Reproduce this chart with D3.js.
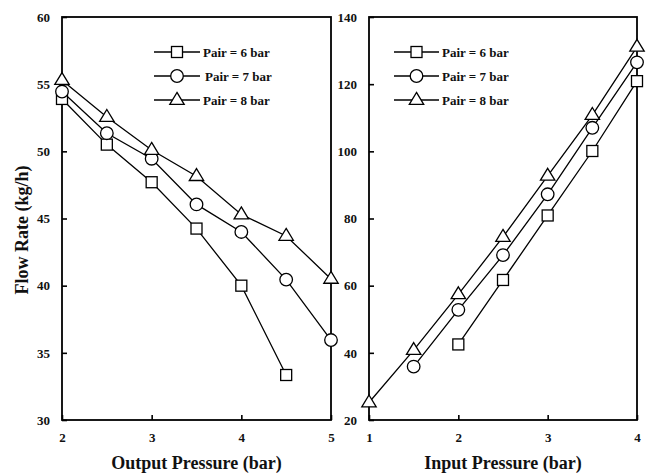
<!DOCTYPE html>
<html>
<head>
<meta charset="utf-8">
<script src="https://cdn.jsdelivr.net/npm/d3@7"></script>
<style>
  html, body { margin: 0; padding: 0; background: #fff; }
  svg text { font-family: "Liberation Serif", "Times New Roman", "DejaVu Serif", serif !important; }
</style>
</head>
<body>
<svg id="chart" width="650" height="475"></svg>
<script>
// Flow rate vs output pressure (left) and vs input pressure (right)
const seriesNames = ["Pair = 6 bar", "Pair = 7 bar", "Pair = 8 bar"];
const markerTypes = ["square", "circle", "triangle"];

const outX6 = [2, 2.5, 3, 3.5, 4, 4.5];
const outY6 = [53.9, 50.5, 47.7, 44.25, 40.0, 33.35];
const outX7 = [2, 2.5, 3, 3.5, 4, 4.5, 5];
const outY7 = [54.45, 51.35, 49.45, 46.05, 44.0, 40.45, 35.95];
const outX8 = [2, 2.5, 3, 3.5, 4, 4.5, 5];
const outY8 = [55.3, 52.55, 50.1, 48.15, 45.3, 43.7, 40.5];

const inX6 = [2, 2.5, 3, 3.5, 4];
const inY6 = [42.5, 61.7, 80.9, 100.1, 120.9];
const inX7 = [1.5, 2, 2.5, 3, 3.5, 4];
const inY7 = [35.9, 52.8, 69.1, 87.2, 107.0, 126.5];
const inX8 = [1, 1.5, 2, 2.5, 3, 3.5, 4];
const inY8 = [25.2, 40.8, 57.4, 74.5, 92.7, 110.8, 131.1];

const leftXTicks = [2, 3, 4, 5];
const leftYTicks = [30, 35, 40, 45, 50, 55, 60];
const rightXTicks = [1, 2, 3, 4];
const rightYTicks = [20, 40, 60, 80, 100, 120, 140];

const yTitle = "Flow Rate (kg/h)";
const leftXTitle = "Output Pressure (bar)";
const rightXTitle = "Input Pressure (bar)";

const svg = d3.select("#chart");

function zip(xs, ys) { return xs.map((x, i) => ({ x, y: ys[i] })); }

function drawMarker(g, type, cx, cy) {
  if (type === "square") {
    g.append("rect").attr("x", cx - 5.5).attr("y", cy - 5.5)
      .attr("width", 11).attr("height", 11);
  } else if (type === "circle") {
    g.append("circle").attr("cx", cx).attr("cy", cy).attr("r", 6.3);
  } else {
    const s = 7.2;
    g.append("path").attr("d",
      `M${cx},${cy - s * 1.05} L${cx + s},${cy + s * 0.6} L${cx - s},${cy + s * 0.6} Z`);
  }
}

function panel(opts) {
  const { left, right, top, bottom, xDomain, yDomain, xTicks, yTicks, series, xTitle, legend } = opts;
  const x = d3.scaleLinear().domain(xDomain).range([left, right]);
  const y = d3.scaleLinear().domain(yDomain).range([bottom, top]);
  const g = svg.append("g");

  // frame
  g.append("rect").attr("x", left).attr("y", top)
    .attr("width", right - left).attr("height", bottom - top)
    .attr("fill", "none").attr("stroke", "#000").attr("stroke-width", 1.8);

  // inward ticks on left axis
  const yAxis = d3.axisLeft(y).tickValues(yTicks).tickSize(-5).tickPadding(12)
    .tickFormat(d3.format("d"));
  const ya = g.append("g").attr("transform", `translate(${left},0)`).call(yAxis);
  ya.select(".domain").remove();
  ya.selectAll("line").attr("stroke-width", 1.6);
  ya.selectAll("text").attr("font-size", 13).attr("font-weight", "bold").attr("fill", "#111");

  // inward ticks on bottom axis
  const xAxis = d3.axisBottom(x).tickValues(xTicks).tickSize(-5).tickPadding(13)
    .tickFormat(d3.format("d"));
  const xa = g.append("g").attr("transform", `translate(0,${bottom})`).call(xAxis);
  xa.select(".domain").remove();
  xa.selectAll("line").attr("stroke-width", 1.6);
  xa.selectAll("text").attr("font-size", 13).attr("font-weight", "bold").attr("fill", "#111");

  const line = d3.line().x(d => x(d.x)).y(d => y(d.y));
  series.forEach(s => {
    g.append("path").datum(s).attr("d", line)
      .attr("fill", "none").attr("stroke", "#000").attr("stroke-width", 1.3);
  });
  series.forEach((s, i) => {
    const mg = g.append("g").attr("fill", "#fff").attr("stroke", "#000").attr("stroke-width", 1.3);
    s.forEach(d => drawMarker(mg, markerTypes[i], x(d.x), y(d.y)));
  });

  // x title
  g.append("text").attr("x", (left + right) / 2).attr("y", 469)
    .attr("text-anchor", "middle").attr("font-size", 18).attr("font-weight", "bold")
    .attr("fill", "#111").text(xTitle);

  // legend
  const lg = g.append("g");
  seriesNames.forEach((name, i) => {
    const ly = legend.y + i * 24;
    lg.append("line").attr("x1", legend.x0).attr("x2", legend.x1)
      .attr("y1", ly).attr("y2", ly).attr("stroke", "#000").attr("stroke-width", 1.3);
    const mg = lg.append("g").attr("fill", "#fff").attr("stroke", "#000").attr("stroke-width", 1.3);
    drawMarker(mg, markerTypes[i], (legend.x0 + legend.x1) / 2, ly);
    lg.append("text").attr("x", legend.x1 + 3 + (legend.offsets ? legend.offsets[i] : 0))
      .attr("y", ly + 4.5).attr("font-size", 13).attr("font-weight", "bold")
      .attr("fill", "#111").text(name);
  });
}

panel({
  left: 62, right: 331, top: 17, bottom: 420,
  xDomain: [2, 5], yDomain: [30, 60],
  xTicks: leftXTicks, yTicks: leftYTicks,
  series: [zip(outX6, outY6), zip(outX7, outY7), zip(outX8, outY8)],
  xTitle: leftXTitle,
  legend: { x0: 154, x1: 200, y: 52, offsets: [0, 2, 0] }
});

panel({
  left: 369, right: 637, top: 17, bottom: 420,
  xDomain: [1, 4], yDomain: [20, 140],
  xTicks: rightXTicks, yTicks: rightYTicks,
  series: [zip(inX6, inY6), zip(inX7, inY7), zip(inX8, inY8)],
  xTitle: rightXTitle,
  legend: { x0: 394, x1: 439, y: 52 }
});

// shared y title
svg.append("text")
  .attr("transform", "translate(28,230) rotate(-90)")
  .attr("text-anchor", "middle").attr("font-size", 18).attr("font-weight", "bold")
  .attr("fill", "#111").text(yTitle);
</script>
</body>
</html>
